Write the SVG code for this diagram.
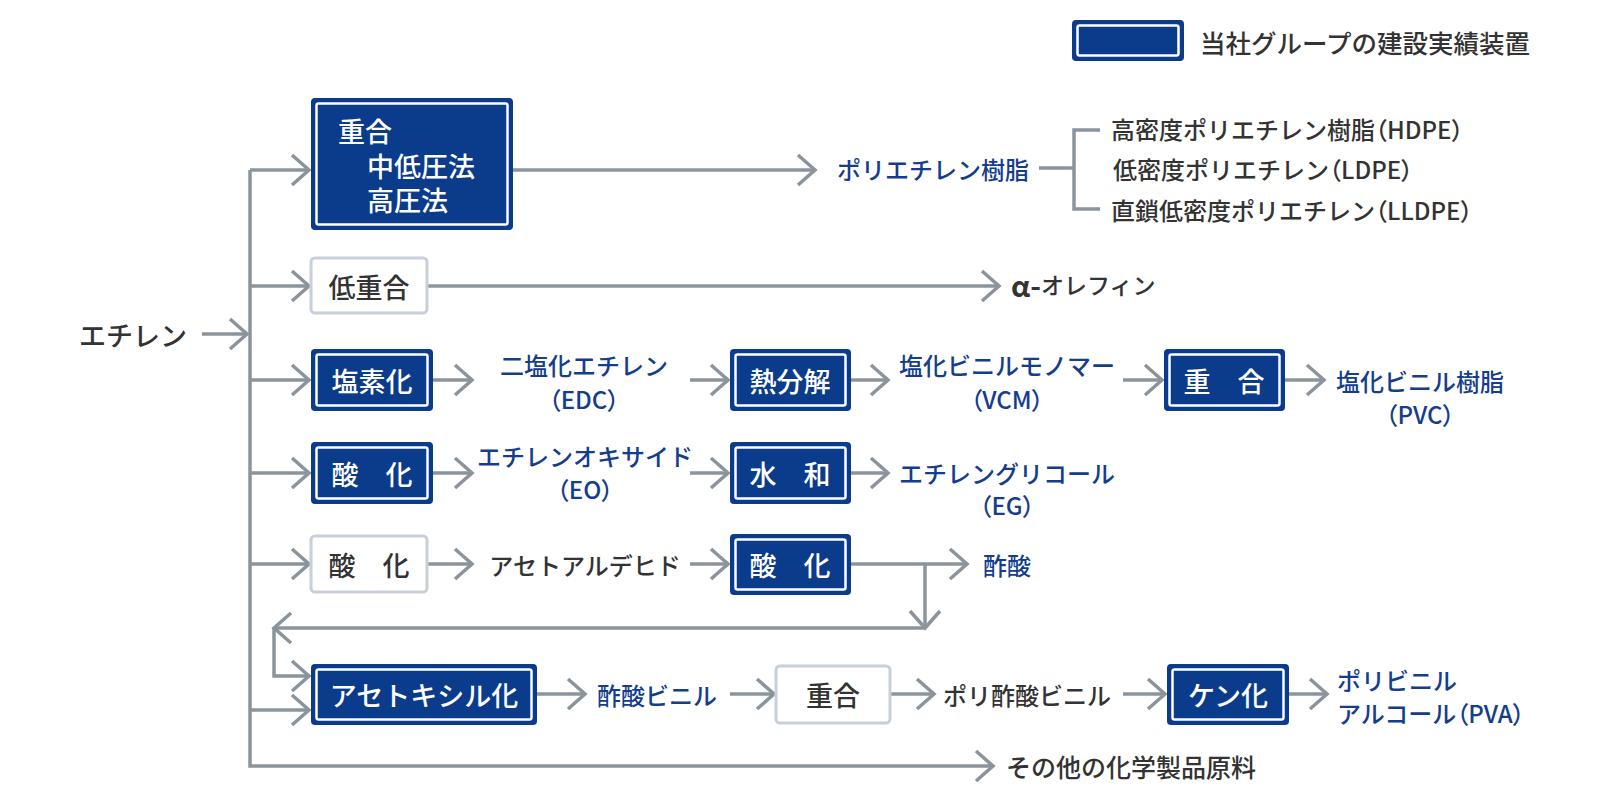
<svg xmlns="http://www.w3.org/2000/svg" width="1601" height="807" viewBox="0 0 1601 807">
<style>
text{font-family:"Noto Sans CJK JP","Noto Sans",sans-serif;dominant-baseline:central;font-weight:500}
.dk{fill:#0b3b8b}
.dki{fill:none;stroke:#fff;stroke-width:2.5}
.lt{fill:#fff;stroke:#c7d0da;stroke-width:3}
.wt{fill:#fff;font-size:27px}
.gt{fill:#333;font-size:27px}
.bl{fill:#153d8d;font-size:24px}
.gl{fill:#333;font-size:24px}
.c{text-anchor:middle}
.cn path{fill:none;stroke:#8b949c;stroke-width:3.5}
.ar{marker-end:url(#ah)}
.p{font-feature-settings:"palt"}
</style>
<defs>
<marker id="ah" markerUnits="userSpaceOnUse" viewBox="-22 -18 26 36" markerWidth="26" markerHeight="36" refX="0" refY="0" orient="auto" overflow="visible">
<path d="M-17,-15 L0,0 L-17,15" fill="none" stroke="#8b949c" stroke-width="3.5"/>
</marker>
</defs>

<g id="legend">
<rect class="dk" x="1072" y="20" width="112" height="41" rx="4"/>
<rect class="dki" x="1077.5" y="25.5" width="101" height="30" rx="2"/>
<text x="1200" y="41" class="gl" style="font-size:25.5px">当社グループの建設実績装置</text>
</g>

<g class="cn" id="connectors">
<path d="M202,334 H247" class="ar"/>
<path d="M250,170 V766 H993" class="ar"/>
<path d="M250,170 H309" class="ar"/>
<path d="M250,286 H309" class="ar"/>
<path d="M250,380 H309" class="ar"/>
<path d="M250,473 H309" class="ar"/>
<path d="M250,564 H309" class="ar"/>
<path d="M250,710 H309" class="ar"/>
<path d="M513,170 H815" class="ar"/>
<path d="M1039,168 H1074"/>
<path d="M1100,130 H1074 V209 H1100"/>
<path d="M427,286 H999" class="ar"/>
<path d="M433,380 H472" class="ar"/>
<path d="M690,380 H728" class="ar"/>
<path d="M851,380 H888" class="ar"/>
<path d="M1123,380 H1162" class="ar"/>
<path d="M1285,380 H1324" class="ar"/>
<path d="M433,473 H472" class="ar"/>
<path d="M690,473 H728" class="ar"/>
<path d="M851,473 H888" class="ar"/>
<path d="M427,564 H472" class="ar"/>
<path d="M690,564 H728" class="ar"/>
<path d="M851,564 H967" class="ar"/>
<path d="M925,564 V628" class="ar"/>
<path d="M925,628 H274" class="ar"/>
<path d="M274,628 V676 H309" class="ar"/>
<path d="M537,694 H585" class="ar"/>
<path d="M730,694 H774" class="ar"/>
<path d="M890,694 H934" class="ar"/>
<path d="M1123,694 H1165" class="ar"/>
<path d="M1289,694 H1327" class="ar"/>
</g>

<g id="ethylene"><text x="79" y="334" class="gt">エチレン</text></g>

<g id="polymerization">
<rect class="dk" x="311" y="98" width="202" height="132" rx="4"/>
<rect class="dki" x="316.5" y="103.5" width="191" height="121" rx="2"/>
<text x="338" y="130" class="wt">重合</text>
<text x="367" y="165" class="wt">中低圧法</text>
<text x="367" y="199" class="wt">高圧法</text>
</g>
<g id="pe-resin"><text x="837" y="168" class="bl">ポリエチレン樹脂</text></g>
<g id="pe-list">
<text x="1111" y="128" class="gl">高密度ポリエチレン樹脂<tspan class="p">（</tspan>HDPE<tspan class="p">）</tspan></text>
<text x="1113" y="168" class="gl">低密度ポリエチレン<tspan class="p">（</tspan>LDPE<tspan class="p">）</tspan></text>
<text x="1111" y="209" class="gl">直鎖低密度ポリエチレン<tspan class="p">（</tspan>LLDPE<tspan class="p">）</tspan></text>
</g>

<g id="oligomerization">
<rect class="lt" x="311" y="258" width="116" height="55" rx="4"/>
<text x="369" y="286" class="gt c">低重合</text>
</g>
<g id="alpha-olefin"><text x="1011" y="284" class="gl" style="font-size:23px"><tspan font-weight="700" font-size="29">α-</tspan>オレフィン</text></g>

<g id="chlorination">
<rect class="dk" x="311" y="349" width="122" height="62" rx="4"/>
<rect class="dki" x="316.5" y="354.5" width="111" height="51" rx="2"/>
<text x="372" y="380" class="wt c">塩素化</text>
</g>
<g id="edc">
<text x="584" y="364" class="bl c">二塩化エチレン</text>
<text x="584" y="398" class="bl c"><tspan class="p">（</tspan>EDC<tspan class="p">）</tspan></text>
</g>
<g id="pyrolysis">
<rect class="dk" x="730" y="349" width="121" height="62" rx="4"/>
<rect class="dki" x="735.5" y="354.5" width="110" height="51" rx="2"/>
<text x="790" y="380" class="wt c">熱分解</text>
</g>
<g id="vcm">
<text x="1007" y="364" class="bl c">塩化ビニルモノマー</text>
<text x="1007" y="398" class="bl c"><tspan class="p">（</tspan>VCM<tspan class="p">）</tspan></text>
</g>
<g id="polymerization-pvc">
<rect class="dk" x="1164" y="349" width="121" height="62" rx="4"/>
<rect class="dki" x="1169.5" y="354.5" width="110" height="51" rx="2"/>
<text x="1224" y="380" class="wt c">重　合</text>
</g>
<g id="pvc">
<text x="1420" y="380" class="bl c">塩化ビニル樹脂</text>
<text x="1420" y="413" class="bl c"><tspan class="p">（</tspan>PVC<tspan class="p">）</tspan></text>
</g>

<g id="oxidation-eo">
<rect class="dk" x="311" y="442" width="122" height="62" rx="4"/>
<rect class="dki" x="316.5" y="447.5" width="111" height="51" rx="2"/>
<text x="372" y="473" class="wt c">酸　化</text>
</g>
<g id="eo">
<text x="585" y="455" class="bl c">エチレンオキサイド</text>
<text x="585" y="488" class="bl c"><tspan class="p">（</tspan>EO<tspan class="p">）</tspan></text>
</g>
<g id="hydration">
<rect class="dk" x="730" y="442" width="121" height="62" rx="4"/>
<rect class="dki" x="735.5" y="447.5" width="110" height="51" rx="2"/>
<text x="790" y="473" class="wt c">水　和</text>
</g>
<g id="eg">
<text x="1007" y="472" class="bl c">エチレングリコール</text>
<text x="1007" y="504" class="bl c"><tspan class="p">（</tspan>EG<tspan class="p">）</tspan></text>
</g>

<g id="oxidation-aa">
<rect class="lt" x="311" y="536" width="116" height="56" rx="4"/>
<text x="369" y="564" class="gt c">酸　化</text>
</g>
<g id="acetaldehyde"><text x="585" y="564" class="gl c">アセトアルデヒド</text></g>
<g id="oxidation-acid">
<rect class="dk" x="730" y="534" width="121" height="61" rx="4"/>
<rect class="dki" x="735.5" y="539.5" width="110" height="50" rx="2"/>
<text x="790" y="564" class="wt c">酸　化</text>
</g>
<g id="acetic-acid"><text x="983" y="564" class="bl">酢酸</text></g>

<g id="acetoxylation">
<rect class="dk" x="311" y="664" width="226" height="61" rx="4"/>
<rect class="dki" x="316.5" y="669.5" width="215" height="50" rx="2"/>
<text x="424" y="694" class="wt c">アセトキシル化</text>
</g>
<g id="vam"><text x="657" y="694" class="bl c">酢酸ビニル</text></g>
<g id="polymerization-pvac">
<rect class="lt" x="776" y="666" width="114" height="57" rx="4"/>
<text x="833" y="694" class="gt c">重合</text>
</g>
<g id="pvac"><text x="1027" y="694" class="gl c">ポリ酢酸ビニル</text></g>
<g id="saponification">
<rect class="dk" x="1167" y="664" width="122" height="61" rx="4"/>
<rect class="dki" x="1172.5" y="669.5" width="111" height="50" rx="2"/>
<text x="1228" y="694" class="wt c">ケン化</text>
</g>
<g id="pva">
<text x="1337" y="679" class="bl">ポリビニル</text>
<text x="1337" y="712" class="bl">アルコール<tspan class="p">（</tspan>PVA<tspan class="p">）</tspan></text>
</g>

<g id="other"><text x="1006" y="766" class="gl" style="font-size:25px">その他の化学製品原料</text></g>
</svg>
